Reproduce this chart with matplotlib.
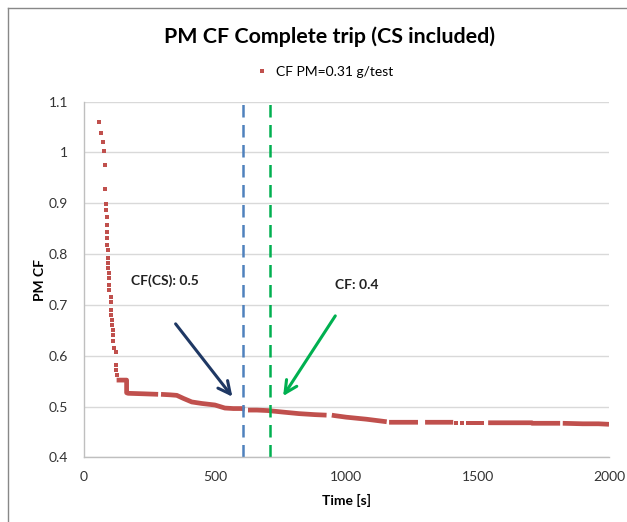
import matplotlib.pyplot as plt
from matplotlib.lines import Line2D
import numpy as np

plt.rcParams['font.family'] = ['Lato', 'DejaVu Sans']

# sparse samples at trip start (shown as separate dots)
t_pts = [60, 68, 73, 78, 81, 83, 86, 86, 88, 88, 91, 91, 91, 92, 94, 95, 95, 96, 96,
         97, 97, 103, 104, 105, 106, 107, 109, 111, 112, 114, 117, 122, 122, 123, 127,
         1418, 1440, 1465, 1478, 1490, 1505, 1515]
cf_pts = [1.060, 1.038, 1.021, 1.003, 0.975, 0.928, 0.899, 0.886, 0.874, 0.858, 0.844,
          0.831, 0.818, 0.808, 0.792, 0.782, 0.772, 0.762, 0.752, 0.739, 0.729, 0.716,
          0.706, 0.690, 0.680, 0.670, 0.660, 0.650, 0.641, 0.628, 0.615, 0.608, 0.582,
          0.572, 0.562,
          0.468, 0.468, 0.468, 0.468, 0.468, 0.468, 0.468]

# dense part of the trace, NaN = missing samples
t_trace = [126, 164, 164, 170, 230, 284, np.nan, 295, 330, 355, 380, 412, 450, 500,
           538, 570, 602, 614, np.nan, 626, 660, 702, 760, 820, 881, 925, np.nan,
           945, 957, 1000, 1077, 1154, np.nan, 1163, 1220, 1273, np.nan,
           1300, 1350, 1407, np.nan, 1540, 1620, 1706, 1708, 1760, 1814, np.nan,
           1824, 1900, 1960, 2000]
cf_trace = [0.552, 0.552, 0.527, 0.526, 0.525, 0.524, np.nan, 0.524, 0.523, 0.522,
            0.516, 0.509, 0.506, 0.503, 0.497, 0.496, 0.496, 0.495, np.nan, 0.493,
            0.493, 0.492, 0.489, 0.486, 0.484, 0.483, np.nan, 0.483, 0.482, 0.479,
            0.475, 0.470, np.nan, 0.469, 0.469, 0.469, np.nan, 0.469, 0.469, 0.469,
            np.nan, 0.468, 0.468, 0.468, 0.467, 0.467, 0.467, np.nan, 0.467, 0.466,
            0.466, 0.465]

cs_time = 606
cf_time = 708

red = '#C0504D'

fig = plt.figure(figsize=(6.27, 5.22), dpi=100)
ax = fig.add_axes([0.1332, 0.1239, 0.8381, 0.6813])

ax.plot(t_pts, cf_pts, linestyle='none', marker='s', markersize=3.2,
        color=red, markeredgewidth=0)
ax.plot(t_trace, cf_trace, color=red, linewidth=3.4, solid_capstyle='butt')

ax.axvline(cs_time, color='#4F81BD', linewidth=1.8, dashes=(5, 3))
ax.axvline(cf_time, color='#00B050', linewidth=1.8, dashes=(5, 3))

ax.annotate('', xy=(573, 0.515), xytext=(344, 0.667),
            arrowprops=dict(arrowstyle='->', color='#1F3864', lw=2.2,
                            mutation_scale=22))
ax.annotate('', xy=(754, 0.516), xytext=(964, 0.683),
            arrowprops=dict(arrowstyle='->', color='#00B050', lw=2.2,
                            mutation_scale=22))
ax.text(181, 0.747, 'CF(CS): 0.5', fontsize=10, fontweight='bold',
        color='#222222', va='center')
ax.text(957, 0.739, 'CF: 0.4', fontsize=10, fontweight='bold',
        color='#222222', va='center')

ax.set_xlim(0, 2000)
ax.set_ylim(0.4, 1.1)
ax.set_xticks([0, 500, 1000, 1500, 2000])
ax.set_yticks([0.4, 0.5, 0.6, 0.7, 0.8, 0.9, 1.0, 1.1])
ax.set_yticklabels(['0.4', '0.5', '0.6', '0.7', '0.8', '0.9', '1', '1.1'])
ax.tick_params(length=0, labelsize=10, colors='#333333')
ax.tick_params(axis='y', pad=11)
ax.tick_params(axis='x', pad=10)
ax.grid(axis='y', color='#D9D9D9', linewidth=1)
ax.set_axisbelow(True)
for s in ['top', 'right']:
    ax.spines[s].set_visible(False)
for s in ['left', 'bottom']:
    ax.spines[s].set_color('#BFBFBF')
    ax.spines[s].set_linewidth(1)

ax.set_xlabel('Time [s]', fontsize=10, fontweight='bold', labelpad=8)
ax.set_ylabel('PM CF', fontsize=10, fontweight='bold', labelpad=2)

fig.suptitle('PM CF Complete trip (CS included)', x=0.525, y=0.95,
             fontsize=15.4, fontweight='bold')
handle = Line2D([], [], linestyle='none', marker='s', markersize=3.2,
                color=red, markeredgewidth=0)
fig.legend([handle], ['CF PM=0.31 g/test'], loc='center',
           bbox_to_anchor=(0.518, 0.862), frameon=False, fontsize=10,
           handlelength=0.8, handletextpad=0.6)

# outer chart border
fig.add_artist(Line2D([8 / 627, 8 / 627], [0, 1 - 8 / 522], color='#888888', lw=1))
fig.add_artist(Line2D([8 / 627, 1], [1 - 8 / 522, 1 - 8 / 522], color='#888888', lw=1))

fig.savefig('out.png', dpi=100)
